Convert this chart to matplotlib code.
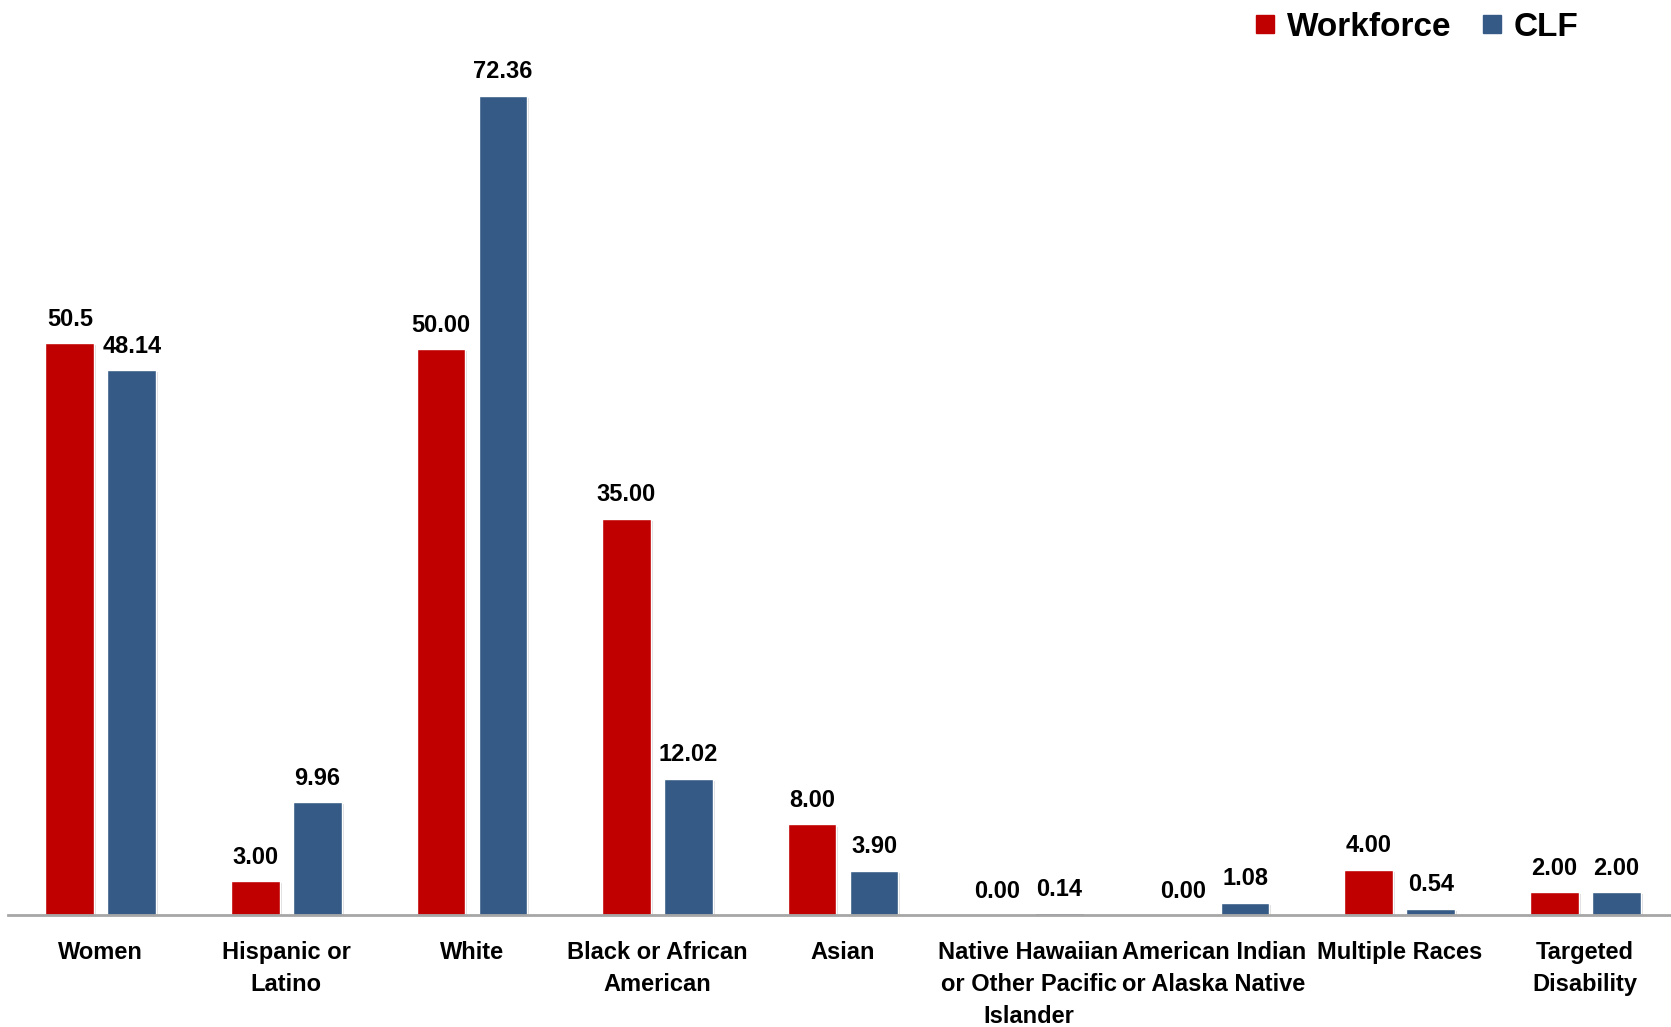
import matplotlib
matplotlib.use("Agg")
import matplotlib.pyplot as plt
import matplotlib.patheffects as pe
from matplotlib.lines import Line2D
import numpy as np

categories = ["Women", "Hispanic or\nLatino", "White", "Black or African\nAmerican", "Asian",
              "Native Hawaiian\nor Other Pacific\nIslander", "American Indian\nor Alaska Native",
              "Multiple Races", "Targeted\nDisability"]
workforce = [50.5, 3.00, 50.00, 35.00, 8.00, 0.00, 0.00, 4.00, 2.00]
workforce_labels = ["50.5", "3.00", "50.00", "35.00", "8.00", "0.00", "0.00", "4.00", "2.00"]
clf = [48.14, 9.96, 72.36, 12.02, 3.90, 0.14, 1.08, 0.54, 2.00]
clf_labels = ["48.14", "9.96", "72.36", "12.02", "3.90", "0.14", "1.08", "0.54", "2.00"]

RED = "#c00000"
BLUE = "#355a85"
FONT = ["Liberation Sans", "DejaVu Sans"]

plt.rcParams["font.family"] = FONT

W, H = 1671, 1027
fig = plt.figure(figsize=(W / 100, H / 100), dpi=100)
# axes in pixel coords: left 8, baseline 915, width 1670, top 0
ax = fig.add_axes([8 / W, (H - 915) / H, 1670 / W, 915 / H])

x = np.arange(len(categories))
off = 0.167
bw = 0.262
shadow = [pe.SimplePatchShadow(offset=(1.5, -1.5), shadow_rgbFace="#bbbbbb", alpha=0.5), pe.Normal()]

b1 = ax.bar(x - off, workforce, bw, color=RED, edgecolor="white", linewidth=1.0, zorder=3)
b2 = ax.bar(x + off, clf, bw, color=BLUE, edgecolor="white", linewidth=1.0, zorder=3)
for b in list(b1) + list(b2):
    b.set_path_effects(shadow)

for xi, v, s in zip(x - off, workforce, workforce_labels):
    ax.annotate(s, (xi, v), xytext=(0, 9), textcoords="offset points", ha="center", va="bottom",
                fontsize=17, fontweight="bold", color="black")
for xi, v, s in zip(x + off, clf, clf_labels):
    ax.annotate(s, (xi, v), xytext=(0, 9), textcoords="offset points", ha="center", va="bottom",
                fontsize=17, fontweight="bold", color="black")

ax.set_xlim(-0.5, len(categories) - 0.5)
ax.set_ylim(0, 915 / 11.32)

for sp in ["top", "right", "left"]:
    ax.spines[sp].set_visible(False)
ax.spines["bottom"].set_color("#a6a6a6")
ax.spines["bottom"].set_linewidth(2)
ax.spines["bottom"].set_zorder(4)
ax.set_yticks([])
ax.set_xticks(x)
ax.set_xticklabels(categories, fontsize=17, fontweight="bold", linespacing=1.5)
ax.tick_params(axis="x", length=0, pad=19)

handles = [Line2D([], [], marker="s", linestyle="", markersize=13, color=RED),
           Line2D([], [], marker="s", linestyle="", markersize=13, color=BLUE)]
fig.legend(handles, ["Workforce", "CLF"], loc="upper right", bbox_to_anchor=(1578 / W, 1 - 12 / H),
           ncol=2, frameon=False, handletextpad=0.15, columnspacing=0.7, handlelength=1.0,
           borderpad=0, borderaxespad=0,
           prop={"size": 24, "weight": "bold", "family": FONT})

fig.savefig("out.png", dpi=100)
